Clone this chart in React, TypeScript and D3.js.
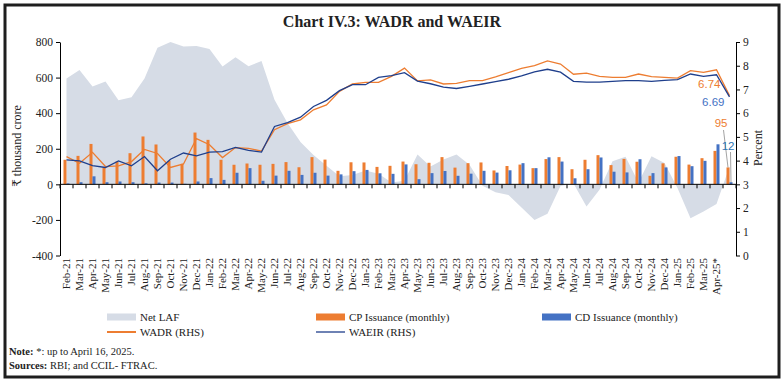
import * as d3 from "d3";
import React, { useCallback } from "react";

// last slot has no label in the original (partial month, up to Apr 16)
const categories = [
  "Feb-21", "Mar-21", "Apr-21", "May-21", "Jun-21", "Jul-21", "Aug-21", "Sep-21", "Oct-21", "Nov-21", "Dec-21",
  "Jan-22", "Feb-22", "Mar-22", "Apr-22", "May-22", "Jun-22", "Jul-22", "Aug-22", "Sep-22", "Oct-22", "Nov-22", "Dec-22",
  "Jan-23", "Feb-23", "Mar-23", "Apr-23", "May-23", "Jun-23", "Jul-23", "Aug-23", "Sep-23", "Oct-23", "Nov-23", "Dec-23",
  "Jan-24", "Feb-24", "Mar-24", "Apr-24", "May-24", "Jun-24", "Jul-24", "Aug-24", "Sep-24", "Oct-24", "Nov-24", "Dec-24",
  "Jan-25", "Feb-25", "Mar-25", "Apr-25*", "",
];

const netLaf = [
  595, 643, 550, 578, 472, 490, 595, 768, 800, 775, 778, 760, 662, 714, 664, 693,
  475, 345, 238, 165, 105, 45, 52, 78, 60, 10, 20, 168, 100, 140, 168, 110,
  -8, -45, -60, -130, -200, -165, -10, 5, -125, -30, 130, 155, 10, 158, 120, -20,
  -190, -152, -110, 100,
];

const cpIssuance = [
  138, 160, 227, 96, 128, 175, 269, 224, 132, 115, 291, 250, 138, 110, 117, 110,
  115, 125, 96, 153, 139, 76, 124, 123, 98, 104, 128, 113, 121, 153, 94, 119,
  123, 78, 103, 111, 91, 142, 153, 85, 138, 164, 108, 143, 127, 48, 118, 155,
  111, 147, 188, 95,
];

const cdIssuance = [
  5, 12, 45, 12, 16, 12, 6, 10, 10, 3, 16, 35, 25, 65, 91, 20,
  49, 76, 53, 65, 49, 56, 74, 81, 62, 59, 112, 29, 63, 75, 48, 60,
  76, 66, 79, 119, 91, 152, 128, 34, 85, 151, 71, 67, 141, 63, 95, 159,
  102, 132, 225, 12,
];

const wadr = [
  4.17, 3.89, 4.35, 3.75, 3.78, 3.96, 4.47, 4.3, 3.71, 3.86, 4.93, 4.67, 4.13, 4.55, 4.52, 4.4,
  5.3, 5.56, 5.72, 6.14, 6.35, 6.92, 7.23, 7.3, 7.3, 7.55, 7.9, 7.36, 7.4, 7.23, 7.26, 7.37,
  7.37, 7.53, 7.71, 7.89, 8.0, 8.2, 8.07, 7.64, 7.69, 7.55, 7.51, 7.51, 7.65, 7.54, 7.51, 7.48,
  7.79, 7.72, 7.83, 6.74,
];

const waeir = [
  4.03, 3.99, 3.79, 3.71, 3.99, 3.78, 4.17, 3.57, 4.06, 4.32, 4.2, 4.36, 4.38, 4.56, 4.43, 4.36,
  5.44, 5.6, 5.83, 6.28, 6.54, 6.95, 7.2, 7.2, 7.51, 7.58, 7.71, 7.35, 7.24, 7.1, 7.04, 7.13,
  7.23, 7.33, 7.43, 7.57, 7.74, 7.85, 7.73, 7.34, 7.31, 7.31, 7.34, 7.37, 7.37, 7.34, 7.38, 7.41,
  7.65, 7.55, 7.62, 6.69,
];

const leftTicks = [-400, -200, 0, 200, 400, 600, 800];
const rightTicks = [0, 1, 2, 3, 4, 5, 6, 7, 8, 9];

const SERIF = "'Liberation Serif', 'DejaVu Serif', serif";
const SANS = "'Liberation Sans', Arial, sans-serif";
const COL = {
  laf: "#d6dce6",
  cp: "#ed7d31",
  cd: "#4472c4",
  wadr: "#ed7d31",
  waeir: "#1f3f8c",
};

function drawChart(node: SVGSVGElement | null) {
  if (!node) return;
  const svg = d3.select(node);
  svg.selectAll("*").remove();

  const left = 60, right = 736, top = 42, bottom = 255.5;

  const x = d3.scaleBand<number>().domain(categories.map((_, i) => i)).range([left, right]).padding(0);
  const cx = (i: number) => (x(i) as number) + x.bandwidth() / 2;
  const yL = d3.scaleLinear().domain([-400, 800]).range([bottom, top]);
  const yR = d3.scaleLinear().domain([0, 9]).range([bottom, top]);

  // frame + title
  svg.append("rect").attr("x", 5).attr("y", 5).attr("width", 774).attr("height", 372)
    .attr("fill", "white").attr("stroke", "#1e1e1e").attr("stroke-width", 3);
  svg.append("text").attr("x", 392).attr("y", 27).attr("text-anchor", "middle")
    .attr("font-family", SERIF).attr("font-weight", "bold").attr("font-size", 16)
    .attr("fill", "#222").text("Chart IV.3: WADR and WAEIR");

  // net LAF area
  const area = d3.area<number>()
    .x((_, i) => cx(i))
    .y0(yL(0))
    .y1(d => yL(d));
  svg.append("path").datum(netLaf).attr("d", area).attr("fill", COL.laf);

  // bars
  const bw = 3;
  svg.append("g").selectAll("rect").data(cpIssuance).join("rect")
    .attr("x", (_, i) => cx(i) - bw)
    .attr("y", d => yL(d))
    .attr("width", bw)
    .attr("height", d => yL(0) - yL(d))
    .attr("fill", COL.cp);
  svg.append("g").selectAll("rect").data(cdIssuance).join("rect")
    .attr("x", (_, i) => cx(i))
    .attr("y", d => yL(d))
    .attr("width", bw)
    .attr("height", d => yL(0) - yL(d))
    .attr("fill", COL.cd);

  // zero line with category ticks
  const y0 = yL(0);
  svg.append("line").attr("x1", left).attr("x2", right).attr("y1", y0).attr("y2", y0)
    .attr("stroke", "#000").attr("stroke-width", 1);
  svg.append("g").selectAll("line").data(d3.range(categories.length + 1)).join("line")
    .attr("x1", i => left + i * x.step())
    .attr("x2", i => left + i * x.step())
    .attr("y1", y0).attr("y2", y0 + 4)
    .attr("stroke", "#000").attr("stroke-width", 1);

  // lines
  const line = (vals: number[]) => d3.line<number>().x((_, i) => cx(i)).y(d => yR(d))(vals);
  svg.append("path").attr("d", line(wadr)).attr("fill", "none")
    .attr("stroke", COL.wadr).attr("stroke-width", 1.3);
  svg.append("path").attr("d", line(waeir)).attr("fill", "none")
    .attr("stroke", COL.waeir).attr("stroke-width", 1.3);

  // axes
  const gl = svg.append("g").attr("transform", `translate(${left},0)`)
    .call(d3.axisLeft(yL).tickValues(leftTicks).tickSize(4).tickSizeOuter(0).tickFormat(d => String(d)));
  const gr = svg.append("g").attr("transform", `translate(${right},0)`)
    .call(d3.axisRight(yR).tickValues(rightTicks).tickSize(4).tickSizeOuter(0).tickFormat(d => String(d)));
  [gl, gr].forEach(g => {
    g.selectAll("text").attr("font-family", SERIF).attr("font-size", 11.5).attr("fill", "#222");
    g.select(".domain").attr("stroke", "#000");
  });

  svg.append("text").attr("transform", "translate(21,146) rotate(-90)").attr("text-anchor", "middle")
    .attr("font-family", SERIF).attr("font-size", 12).attr("fill", "#222").text("₹ thousand crore");
  svg.append("text").attr("transform", "translate(762,148) rotate(-90)").attr("text-anchor", "middle")
    .attr("font-family", SERIF).attr("font-size", 12).attr("fill", "#222").text("Percent");

  // category labels
  svg.append("g").selectAll("text").data(categories.map((c, i) => ({ c, i })).filter(d => d.c !== "")).join("text")
    .attr("transform", d => `translate(${cx(d.i)},258) rotate(-90)`)
    .attr("text-anchor", "end").attr("dy", "0.35em")
    .attr("font-family", SERIF).attr("font-size", 11).attr("fill", "#222")
    .text(d => d.c);

  // end-point annotations
  const last = categories.length - 1;
  const lx = cx(last);
  svg.append("text").attr("x", lx - 9).attr("y", yR(wadr[last]) - 8).attr("text-anchor", "end")
    .attr("font-family", SANS).attr("font-size", 11.5).attr("fill", COL.wadr).text(wadr[last].toFixed(2));
  svg.append("text").attr("x", lx - 5).attr("y", yR(waeir[last]) + 9).attr("text-anchor", "end")
    .attr("font-family", SANS).attr("font-size", 11.5).attr("fill", COL.cd).text(waeir[last].toFixed(2));
  svg.append("line").attr("x1", lx - 6).attr("y1", 130).attr("x2", lx - 1.5).attr("y2", yL(cpIssuance[last]))
    .attr("stroke", "#8c8c8c").attr("stroke-width", 0.8);
  svg.append("line").attr("x1", lx + 1).attr("y1", 152).attr("x2", lx + 1.5).attr("y2", yL(cdIssuance[last]))
    .attr("stroke", "#8c8c8c").attr("stroke-width", 0.8);
  svg.append("text").attr("x", lx - 2).attr("y", 127).attr("text-anchor", "end")
    .attr("font-family", SANS).attr("font-size", 11.5).attr("fill", COL.cp).text(String(cpIssuance[last]));
  svg.append("text").attr("x", lx + 5).attr("y", 150).attr("text-anchor", "end")
    .attr("font-family", SANS).attr("font-size", 11.5).attr("fill", "#2e75b6").text(String(cdIssuance[last]));

  // legend
  const lg = svg.append("g").attr("font-family", SERIF).attr("font-size", 11).attr("fill", "#222");
  const swatchRect = (x0: number, y: number, color: string, label: string) => {
    lg.append("rect").attr("x", x0).attr("y", y - 3.5).attr("width", 29).attr("height", 7).attr("fill", color);
    lg.append("text").attr("x", x0 + 33).attr("y", y + 4).text(label);
  };
  const swatchLine = (x0: number, y: number, color: string, w: number, label: string) => {
    lg.append("line").attr("x1", x0).attr("x2", x0 + 29).attr("y1", y).attr("y2", y)
      .attr("stroke", color).attr("stroke-width", w);
    lg.append("text").attr("x", x0 + 33).attr("y", y + 4).text(label);
  };
  swatchRect(107, 317, COL.laf, "Net LAF");
  swatchRect(316, 317, COL.cp, "CP Issuance (monthly)");
  swatchRect(542, 317, COL.cd, "CD Issuance (monthly)");
  swatchLine(107, 332, COL.wadr, 2, "WADR (RHS)");
  swatchLine(316, 332, COL.waeir, 1.3, "WAEIR (RHS)");

  // notes
  const note = svg.append("text").attr("x", 9).attr("y", 355).attr("font-family", SERIF)
    .attr("font-size", 10.5).attr("fill", "#222");
  note.append("tspan").attr("font-weight", "bold").text("Note: ");
  note.append("tspan").text("*: up to April 16, 2025.");
  const src = svg.append("text").attr("x", 9).attr("y", 369).attr("font-family", SERIF)
    .attr("font-size", 10.5).attr("fill", "#222");
  src.append("tspan").attr("font-weight", "bold").text("Sources: ");
  src.append("tspan").text("RBI; and CCIL- FTRAC.");
}

export default function App() {
  const ref = useCallback((node: SVGSVGElement | null) => {
    drawChart(node);
  }, []);

  return (
    <div style={{ position: "absolute", left: 0, top: 0 }}>
      <svg ref={ref} width={784} height={385} style={{ display: "block" }} />
    </div>
  );
}
